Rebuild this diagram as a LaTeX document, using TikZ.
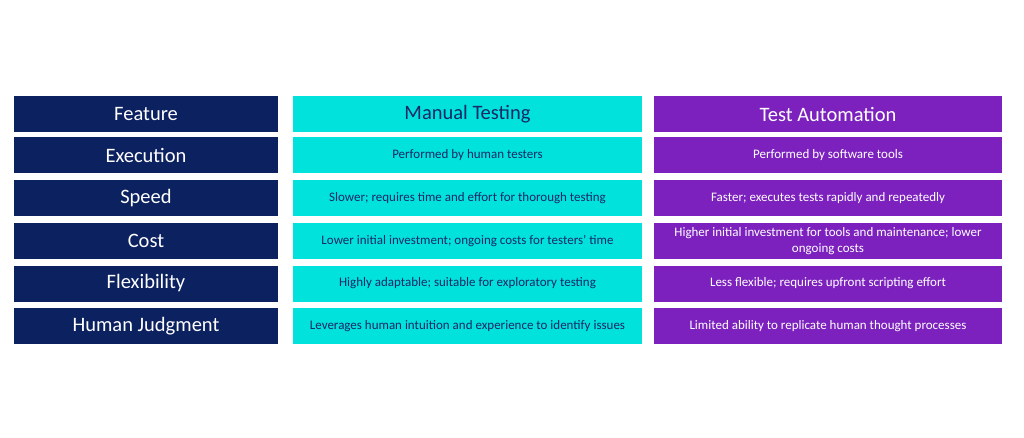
\documentclass[tikz,border=0pt]{standalone}
\usepackage{fontspec}
\setmainfont{Carlito}
\definecolor{navybg}{RGB}{12,33,96}
\definecolor{cyanbg}{RGB}{2,226,220}
\definecolor{purplebg}{RGB}{124,33,190}
\definecolor{navytext}{RGB}{22,40,102}
\tikzset{
  cellbase/.style={rectangle, inner sep=0pt, minimum height=36pt, align=center},
  leftcell/.style={cellbase, fill=navybg, text=white, minimum width=264pt, font=\fontsize{20.5}{22}\selectfont},
  midcell/.style={cellbase, fill=cyanbg, text=navytext, minimum width=349pt, font=\fontsize{13}{16.5}\selectfont},
  rightcell/.style={cellbase, fill=purplebg, text=white, minimum width=348pt, font=\fontsize{13}{16.5}\selectfont},
  headtext/.style={font=\fontsize{20.5}{22}\selectfont}
}
\begin{document}
\begin{tikzpicture}[x=1pt,y=-1pt]
\useasboundingbox[fill=white] (0,0) rectangle (1024,438);
% left column
\node[leftcell] (f0) at (146,114) {Feature};
\node[leftcell] (f1) at (146,155.5) {Execution};
\node[leftcell] (f2) at (146,198) {Speed};
\node[leftcell] (f3) at (146,241) {Cost};
\node[leftcell] (f4) at (146,283.5) {Flexibility};
\node[leftcell] (f5) at (146,326) {Human Judgment};
% middle column
\node[midcell, headtext] (m0) at (467.5,114) {Manual Testing};
\node[midcell] (m1) at (467.5,155.5) {Performed by human testers};
\node[midcell] (m2) at (467.5,198) {Slower; requires time and effort for thorough testing};
\node[midcell] (m3) at (467.5,241) {Lower initial investment; ongoing costs for testers' time};
\node[midcell] (m4) at (467.5,283.5) {Highly adaptable; suitable for exploratory testing};
\node[midcell] (m5) at (467.5,326) {Leverages human intuition and experience to identify issues};
% right column
\node[rightcell, headtext] (a0) at (828,114) {Test Automation};
\node[rightcell] (a1) at (828,155.5) {Performed by software tools};
\node[rightcell] (a2) at (828,198) {Faster; executes tests rapidly and repeatedly};
\node[rightcell] (a3) at (828,241) {Higher initial investment for tools and maintenance; lower\\ongoing costs};
\node[rightcell] (a4) at (828,283.5) {Less flexible; requires upfront scripting effort};
\node[rightcell] (a5) at (828,326) {Limited ability to replicate human thought processes};
\end{tikzpicture}
\end{document}
